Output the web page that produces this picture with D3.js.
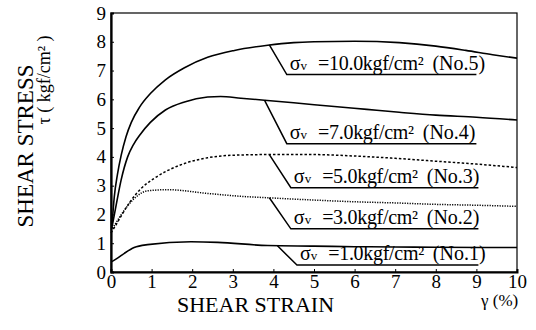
<!DOCTYPE html>
<html>
<head>
<meta charset="utf-8">
<script src="https://cdn.jsdelivr.net/npm/d3@7"></script>
<style>
  body { margin: 0; background: #fff; }
  svg text { font-family: "Liberation Serif", "Times New Roman", Times, Tinos, "Noto Serif", "DejaVu Serif", serif; fill: #000; }
</style>
</head>
<body>
<svg id="svg"></svg>
<script>
'use strict';

// ================================= data ======================================
var xTicks = [0, 1, 2, 3, 4, 5, 6, 7, 8, 9, 10];
var yTicks = [0, 1, 2, 3, 4, 5, 6, 7, 8, 9];

var seriesNames = ["No.5", "No.4", "No.3", "No.2", "No.1"];
var sigmaValues = ["10.0", "7.0", "5.0", "3.0", "1.0"];

// [strain %, stress kgf/cm2]
var curveNo5 = [[0.02, 1.5], [0.08, 2.6], [0.16, 3.4], [0.25, 4.05], [0.37, 4.7], [0.5, 5.2], [0.7, 5.72],
    [0.97, 6.2], [1.34, 6.68], [1.81, 7.1], [2.38, 7.46], [3.04, 7.7], [3.86, 7.88], [4.5, 7.97],
    [5, 8.0], [6, 8.02], [7.1, 7.97], [8, 7.85], [8.74, 7.7], [9.4, 7.55], [10, 7.43]];
var curveNo4 = [[0.03, 1.6], [0.12, 2.27], [0.25, 3.2], [0.41, 4.0], [0.55, 4.42], [0.72, 4.78], [0.97, 5.2],
    [1.34, 5.63], [1.81, 5.91], [2.38, 6.08], [2.7, 6.1], [3.2, 6.04], [3.78, 5.97], [4.5, 5.88],
    [5.5, 5.75], [6.3, 5.65], [7.1, 5.55], [8, 5.45], [9, 5.38], [10, 5.28]];
var curveNo3 = [[0, 1.36], [0.12, 1.63], [0.29, 2.04], [0.49, 2.48], [0.74, 2.9], [1.07, 3.26], [1.4, 3.53],
    [1.81, 3.77], [2.38, 3.97], [3.04, 4.06], [3.86, 4.08], [5, 4.08], [6, 4.03], [7, 3.95],
    [8, 3.85], [9, 3.75], [10, 3.63]];
var curveNo2 = [[0.04, 1.52], [0.12, 1.7], [0.33, 2.15], [0.57, 2.55], [0.9, 2.82], [1.4, 2.86],
    [2.38, 2.73], [3.2, 2.63], [3.86, 2.58], [5, 2.5], [6, 2.44], [7, 2.4], [8, 2.35],
    [9, 2.32], [10, 2.28]];
var curveNo1 = [[0.02, 0.36], [0.16, 0.48], [0.33, 0.65], [0.57, 0.85], [0.9, 0.95], [1.97, 1.05],
    [2.63, 1.03], [3.86, 0.92], [5, 0.9], [6, 0.88], [7, 0.87], [8, 0.86], [10, 0.85]];

var curves = [curveNo5, curveNo4, curveNo3, curveNo2, curveNo1];

// callout leader lines: point on curve -> elbow -> end of underline (data units)
var calloutStart = [[3.9, 7.89], [3.78, 5.97], [3.9, 4.08], [3.9, 2.58], [4.1, 0.91]];
var calloutElbow = [[4.33, 6.86], [4.33, 4.46], [4.43, 2.93], [4.43, 1.5], [4.58, 0.24]];
var calloutEnd = [9.0, 9.0, 9.05, 9.05, 9.05];

// ================================= layout ======================================
var width = 536;
var height = 330;
var margin = { top: 13, right: 19, bottom: 58, left: 111 };

var svg = d3.select("#svg")
    .attr("width", width)
    .attr("height", height);

var x = d3.scaleLinear().domain([0, 10]).range([margin.left, width - margin.right]);
var y = d3.scaleLinear().domain([0, 9]).range([height - margin.bottom, margin.top]);

// frame
svg.append("rect")
    .attr("x", x(0))
    .attr("y", y(9))
    .attr("width", x(10) - x(0))
    .attr("height", y(0) - y(9))
    .attr("fill", "none")
    .attr("stroke", "#000")
    .attr("stroke-width", 1.2);

var xAxis = svg.append("g")
    .attr("transform", "translate(0," + y(0) + ")")
    .call(d3.axisBottom(x).tickValues(xTicks).tickSize(-3).tickPadding(2).tickFormat(d3.format("d")));
var yAxis = svg.append("g")
    .attr("transform", "translate(" + x(0) + ",0)")
    .call(d3.axisLeft(y).tickValues(yTicks).tickSize(-3).tickPadding(5).tickFormat(d3.format("d")));

[xAxis, yAxis].forEach(function (g) {
    g.attr("font-family", null);
    g.select(".domain").attr("stroke-width", 2);
    g.selectAll(".tick text").attr("font-size", 19);
});
yAxis.select(".domain").attr("stroke-width", 2.2);

// curves
var line = d3.line()
    .x(d => x(d[0]))
    .y(d => y(d[1]))
    .curve(d3.curveMonotoneX);

var dashes = [null, null, "2.5,2", "1.2,1.3", null];

svg.append("g")
    .selectAll("path")
    .data(curves)
    .join("path")
    .attr("d", line)
    .attr("fill", "none")
    .attr("stroke", "#000")
    .attr("stroke-width", (d, i) => dashes[i] ? 1.5 : 1.6)
    .attr("stroke-dasharray", (d, i) => dashes[i]);

// callouts
var callouts = svg.append("g");
seriesNames.forEach(function (name, i) {
    var pts = [calloutStart[i], calloutElbow[i], [calloutEnd[i], calloutElbow[i][1]]];
    callouts.append("path")
        .attr("d", d3.line().x(d => x(d[0])).y(d => y(d[1]))(pts))
        .attr("fill", "none")
        .attr("stroke", "#000")
        .attr("stroke-width", 1.5);

    var t = callouts.append("text")
        .attr("x", x(calloutElbow[i][0]) + 3)
        .attr("y", y(calloutElbow[i][1]) - 5)
        .attr("font-size", 20);
    t.append("tspan").text("σ");
    t.append("tspan").attr("font-size", 13).text("v");
    t.append("tspan").attr("dx", 11).attr("letter-spacing", -0.3).text("=" + sigmaValues[i] + "kgf/cm²");
    t.append("tspan").attr("dx", 9).text("(" + name + ")");
});

// axis titles
svg.append("text")
    .attr("transform", "translate(33,146) rotate(-90)")
    .attr("text-anchor", "middle")
    .attr("font-size", 23)
    .text("SHEAR STRESS");

svg.append("text")
    .attr("transform", "translate(50,80) rotate(-90)")
    .attr("text-anchor", "middle")
    .attr("font-size", 18)
    .text("τ ( kgf/cm² )");

svg.append("text")
    .attr("x", 177)
    .attr("y", 312)
    .attr("font-size", 22)
    .text("SHEAR STRAIN");

svg.append("text")
    .attr("x", 481)
    .attr("y", 306)
    .attr("font-size", 17)
    .text("γ  (%)");
</script>
</body>
</html>
